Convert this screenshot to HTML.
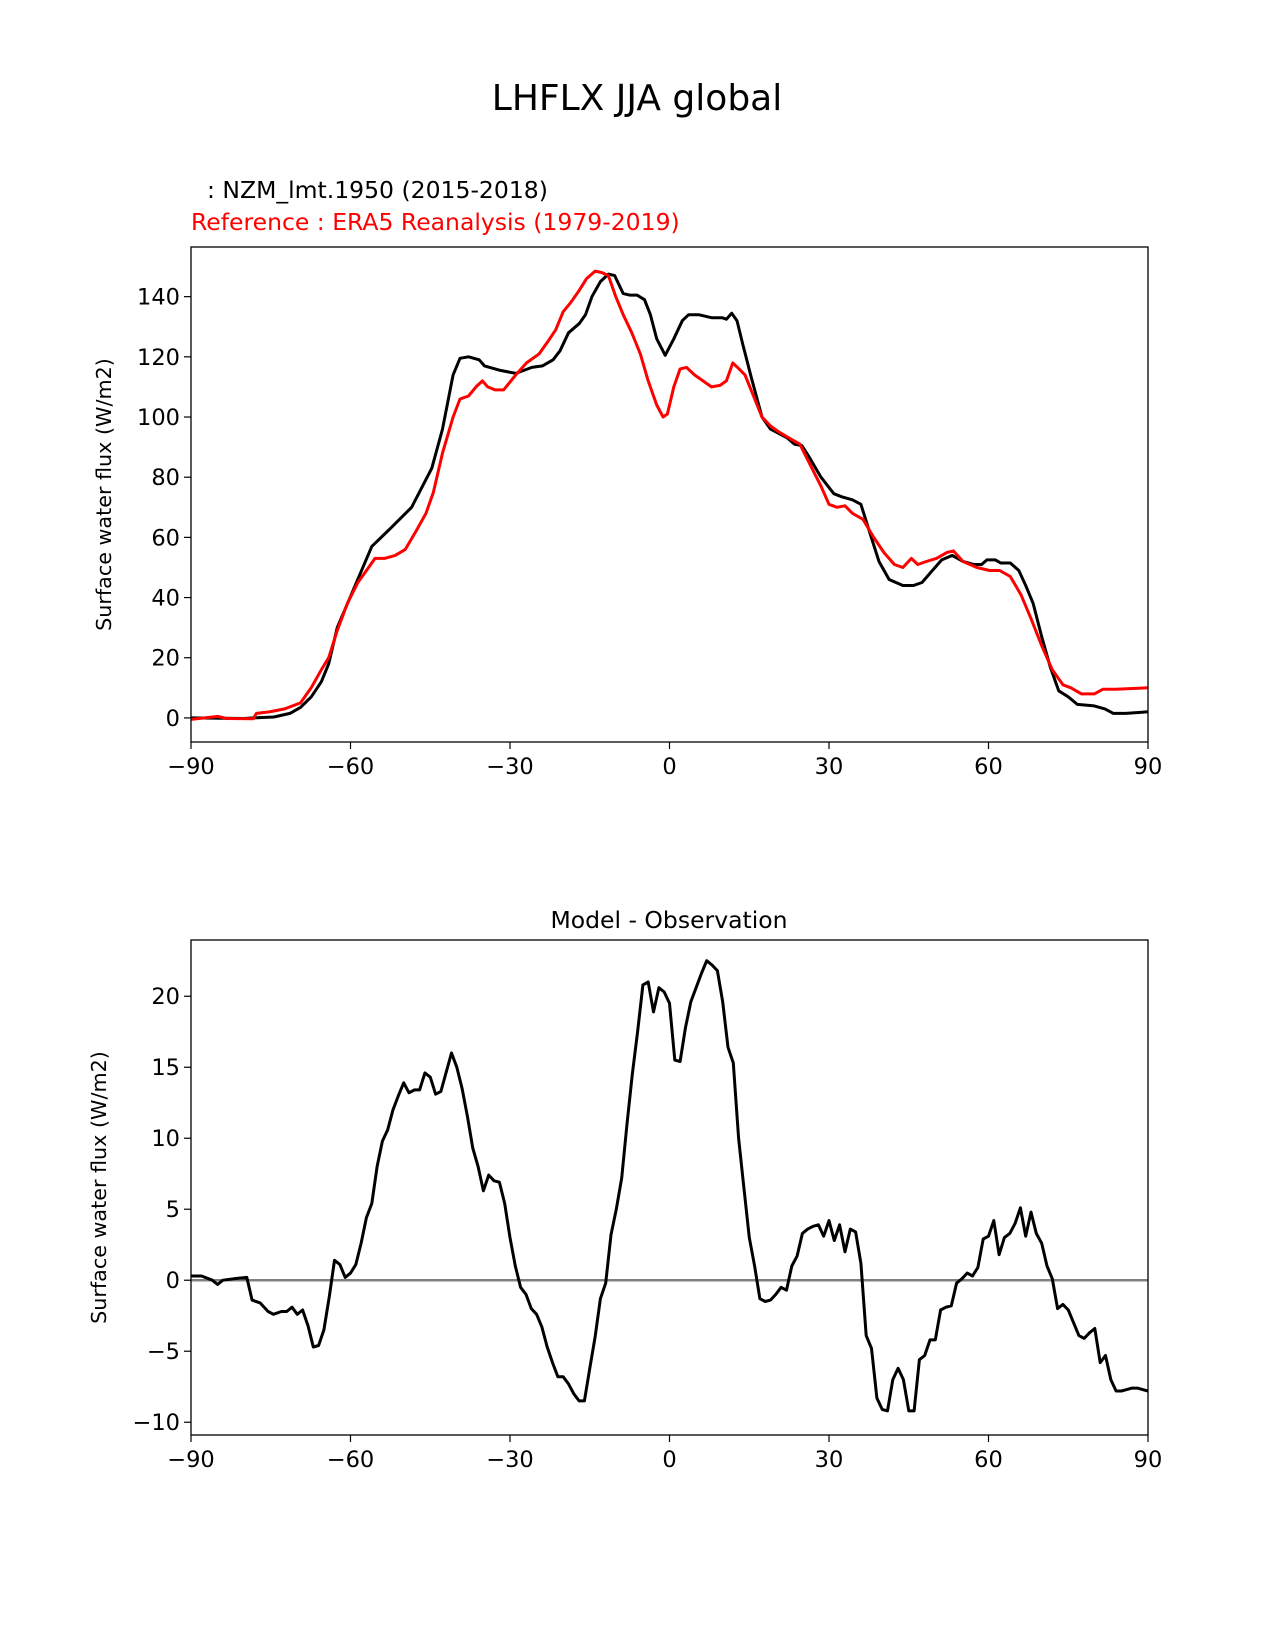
<!DOCTYPE html>
<html><head><meta charset="utf-8"><style>
html,body{margin:0;padding:0;background:#fff;}
svg{display:block;font-family:"DejaVu Sans","Liberation Sans",sans-serif;}
</style></head><body>
<svg id="fig" width="1275" height="1650" viewBox="0 0 1275 1650">
<text x="637" y="110" font-size="36" text-anchor="middle">LHFLX JJA global</text>
<text x="207" y="198" font-size="23.5">: NZM_lmt.1950 (2015-2018)</text>
<text x="191" y="230" font-size="23.5" fill="#ff0000">Reference : ERA5 Reanalysis (1979-2019)</text>
<text x="669" y="928" font-size="23.5" text-anchor="middle">Model - Observation</text>
<g id="top"></g>
<g id="bot"></g>
</svg>
<script>
const xTicks=[-90,-60,-30,0,30,60,90];
const topYTicks=[0,20,40,60,80,100,120,140];
const botYTicks=[-10,-5,0,5,10,15,20];
const modelLat=[-90,-80,-78.3,-74.4,-71.4,-69.4,-67.4,-65.5,-64.1,-62.5,-56,-52.5,-48.5,-44.7,-42.7,-40.7,-39.4,-37.8,-35.8,-34.8,-31.8,-28.9,-25.9,-23.9,-21.9,-20.6,-19,-17,-15.8,-14.6,-13,-11.5,-10.3,-8.7,-7.5,-6.1,-4.7,-3.6,-2.4,-0.8,0.8,2.4,3.6,5.5,7.9,9.9,10.7,11.7,12.7,13.8,15.4,17.4,19,20.6,22.2,23.5,24.9,26.5,28.5,30.9,32.4,34.4,36,37.6,39.4,41.3,43.9,45.9,47.5,49.2,51.2,53.2,55.2,57.2,58.7,59.7,61.3,62.3,64.1,65.7,67,68.4,70,71.6,73.2,75,76.7,79.9,81.9,83.5,85.8,89.8,90];
const modelVal=[0,-0.2,0,0.3,1.5,3.5,7,12,18,30,57,63,70,83,96,114,119.5,120,119,117,115.5,114.5,116.5,117,119,122,128,131,134,140,145,147.5,147,141,140.5,140.5,139,134,126,120.5,126,132,134,134,133,133,132.5,134.5,132,124,113,100,96,94.5,93,91,90.5,86,80,74.5,73.5,72.5,71,62,52,46,44,44,45,48.5,52.5,54,52,51,51,52.5,52.5,51.5,51.5,49,44,38,27,17,9,7,4.5,4,3,1.5,1.5,2,2];
const refLat=[-90,-84.9,-83.3,-78.3,-77.7,-75.3,-72.4,-69.4,-67.4,-65.5,-64.1,-62.5,-60.6,-58.6,-56.6,-55.4,-53.6,-51.6,-49.7,-47.7,-45.8,-44.4,-42.7,-40.7,-39.4,-37.8,-36.4,-35.2,-34.2,-32.8,-31.2,-28.9,-26.9,-24.5,-22.9,-21.4,-20,-18.6,-17,-15.6,-14,-12.7,-11.5,-10.1,-8.7,-7.1,-5.5,-4,-2.4,-1.2,-0.4,0.8,2,3.2,4.7,6.3,7.9,9.5,10.7,11.9,13.1,14.2,15.8,17.4,19,20.6,22.5,24.5,26.5,28.5,30,31.5,33,34.4,36.4,38.4,40.3,42.3,43.9,45.5,46.7,48.3,50.2,52.2,53.4,55.2,57.8,60.2,62.1,64.1,66.1,68,70,72,74,75.5,77.5,79.9,81.5,83.9,90];
const refVal=[-0.5,0.5,-0.2,-0.3,1.5,2,3,5,10,16,20,29,38,45,50,53,53,54,56,62,68,75,88,100,106,107,110,112,110,109,109,114,118,121,125,129,135,138,142,146,148.5,148,147,140,134,128,121,112,104,100,101,110,116,116.5,114,112,110,110.5,112,118,116,114,107,100,97,95,93,91,84,77,71,70,70.5,68,66,60,55,51,50,53,51,52,53,55,55.5,52,50,49,49,47,41,33,24,16,11,10,8,8,9.5,9.5,10];
const diffLat=[-90,-88,-86,-85,-84,-82,-79.5,-78.5,-77,-75.5,-74.5,-73,-72,-71,-70,-69,-68,-67,-66,-65,-64,-63,-62,-61,-60,-59,-58,-57,-56,-55,-54,-53,-52,-51,-50,-49,-48,-47,-46,-45,-44,-43,-41,-40,-39,-38,-37,-36,-35,-34,-33,-32,-31,-30,-29,-28,-27,-26,-25,-24,-23,-22,-21,-20,-19,-18,-17,-16,-15,-14,-13,-12,-11,-10,-9,-8,-7,-6,-5,-4,-3,-2,-1,0,1,2,3,4,5,6,7,8,9,10,11,12,13,14,15,16,17,18,19,20,21,22,23,24,25,26,27,28,29,30,31,32,33,34,35,36,37,38,39,40,41,42,43,44,45,46,47,48,49,50,51,52,53,54,55,56,57,58,59,60,61,62,63,64,65,66,67,68,69,70,71,72,73,74,75,76,77,78,79,80,81,82,83,84,85,86,87,88,89,90];
const diffVal=[0.3,0.3,0,-0.3,0,0.1,0.2,-1.4,-1.6,-2.2,-2.4,-2.2,-2.2,-1.9,-2.4,-2.1,-3.2,-4.7,-4.6,-3.5,-1.2,1.4,1.1,0.2,0.5,1.1,2.6,4.4,5.4,8,9.8,10.6,12,13,13.9,13.2,13.4,13.4,14.6,14.3,13.1,13.3,16,15,13.5,11.5,9.3,8,6.3,7.4,7,6.9,5.4,3,1,-0.5,-1,-2,-2.4,-3.3,-4.7,-5.8,-6.8,-6.8,-7.3,-8,-8.5,-8.5,-6.2,-4,-1.3,-0.2,3.2,5,7.2,11,14.5,17.5,20.8,21,18.9,20.6,20.3,19.5,15.5,15.4,17.8,19.6,20.6,21.6,22.5,22.2,21.8,19.6,16.4,15.3,10,6.5,3,1,-1.3,-1.5,-1.4,-1,-0.5,-0.7,1,1.7,3.3,3.6,3.8,3.9,3.1,4.2,2.8,3.9,2,3.6,3.4,1.2,-3.9,-4.8,-8.3,-9.1,-9.2,-7,-6.2,-7,-9.2,-9.2,-5.6,-5.3,-4.2,-4.2,-2.1,-1.9,-1.8,-0.2,0.1,0.5,0.3,0.9,2.9,3.1,4.2,1.8,3,3.3,4,5.1,3.1,4.8,3.3,2.6,1,0.1,-2,-1.7,-2.1,-3,-3.9,-4.1,-3.7,-3.4,-5.8,-5.3,-7,-7.8,-7.8,-7.7,-7.6,-7.6,-7.7,-7.8];

const NS='http://www.w3.org/2000/svg';
function mk(parent,tag,attrs){const e=document.createElementNS(NS,tag);for(const k in attrs)e.setAttribute(k,attrs[k]);parent.appendChild(e);return e;}
const L=191,R=1148;
const xs=v=>L+(v+90)/180*(R-L);

function axes(g,top,bot,ymin,ymax,yTicks,ylabel,ylx){
  const ys=v=>bot-(v-ymin)/(ymax-ymin)*(bot-top);
  xTicks.forEach(t=>{
    const ln=mk(g,'line',{x1:xs(t),x2:xs(t),y1:bot,y2:bot+7,stroke:'#000','stroke-width':1.2});
    
    
    const tx=mk(g,'text',{x:xs(t),y:bot+32,'font-size':22.5,'text-anchor':'middle'});
    tx.textContent=t<0?'\u2212'+(-t):String(t);
    
    
  });
  yTicks.forEach(t=>{
    const ln=mk(g,'line',{x1:L-7,x2:L,y1:ys(t),y2:ys(t),stroke:'#000','stroke-width':1.2});
    
    
    const tx=mk(g,'text',{x:L-11,y:ys(t)+8,'font-size':22.5,'text-anchor':'end'});
    tx.textContent=t<0?'\u2212'+(-t):String(t);
    
    
  });
  const yl=mk(g,'text',{x:ylx,y:(top+bot)/2,'font-size':20.7,'text-anchor':'middle',transform:`rotate(-90 ${ylx} ${(top+bot)/2})`});
  yl.textContent=ylabel;
  
  
  return ys;
}
function line(g,lat,val,ys,color,w,name,top,bot,clipId){
  const d=lat.map((x,i)=>(i?'L':'M')+xs(x).toFixed(1)+','+ys(val[i]).toFixed(1)).join('');
  const p=mk(g,'path',{d:d,fill:'none',stroke:color,'stroke-width':w,'stroke-linejoin':'round','clip-path':`url(#${clipId})`});
  
  
}
function frame(g,top,bot){
  const r=mk(g,'rect',{x:L,y:top,width:R-L,height:bot-top,fill:'none',stroke:'#000','stroke-width':1.3});
  
  
}
const svg=document.getElementById('fig');
const defs=mk(svg,'defs',{});
const c1=mk(defs,'clipPath',{id:'c1'});mk(c1,'rect',{x:L,y:247,width:R-L,height:495});
const c2=mk(defs,'clipPath',{id:'c2'});mk(c2,'rect',{x:L,y:940,width:R-L,height:495});

const gt=document.getElementById('top');
const ysT=axes(gt,247,742,-8.0,156.5,topYTicks,'Surface water flux (W/m2)',111);
line(gt,modelLat,modelVal,ysT,'#000',3,'model-line',247,742,'c1');
line(gt,refLat,refVal,ysT,'#ff0000',3,'reference-line',247,742,'c1');
frame(gt,247,742);

const gb=document.getElementById('bot');
const ysB=axes(gb,940,1435,-10.9,23.96,botYTicks,'Surface water flux (W/m2)',106);
const z=mk(gb,'line',{x1:L,x2:R,y1:ysB(0),y2:ysB(0),stroke:'#808080','stroke-width':2.5});


line(gb,diffLat,diffVal,ysB,'#000',3,'difference-line',940,1435,'c2');
frame(gb,940,1435);
</script>
</body></html>
